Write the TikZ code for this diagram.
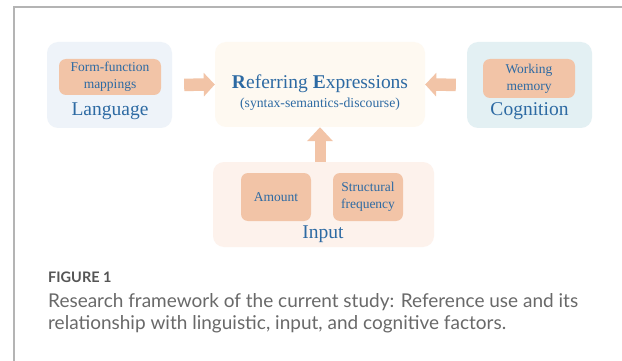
\documentclass[tikz,border=0pt]{standalone}
\usepackage{fontspec}
\setmainfont{Liberation Serif}
\newfontfamily\capfont{Lato}
\usetikzlibrary{arrows.meta}
\definecolor{txtblue}{RGB}{45,106,163}
\definecolor{peach}{RGB}{242,196,167}
\definecolor{langbg}{RGB}{238,243,249}
\definecolor{refbg}{RGB}{254,249,241}
\definecolor{cogbg}{RGB}{227,240,243}
\definecolor{inbg}{RGB}{253,242,236}
\definecolor{framegray}{RGB}{180,180,180}
\definecolor{capgray}{RGB}{105,105,105}
\definecolor{figgray}{RGB}{85,85,85}
\begin{document}
\begin{tikzpicture}[x=1pt,y=-1pt,
  outerbox/.style={rounded corners=11pt, inner sep=0pt, draw=none},
  innerbox/.style={rounded corners=7pt, inner sep=0pt, fill=peach, text=txtblue,
    align=center, font=\fontsize{13.5}{17}\selectfont},
  biglabel/.style={text=txtblue, anchor=base, inner sep=0pt, font=\fontsize{19.5}{23}\selectfont},
  bigarrow/.style={draw=peach, line width=#1},
  bigarrow/.default=12pt,
  captext/.style={anchor=base west, inner sep=0pt, text=capgray, font=\capfont\fontsize{19}{22}\selectfont}
]
\useasboundingbox (0,0) rectangle (622,361);
\fill[white] (0,0) rectangle (622,361);
\draw[framegray, line width=1.5pt] (14,361) -- (14,7) -- (622,7);

% outer boxes
\node[outerbox, fill=langbg, minimum width=125pt, minimum height=86pt] (lang) at (109.5,85) {};
\node[outerbox, fill=refbg, minimum width=210pt, minimum height=85pt] (ref) at (320,84.5) {};
\node[outerbox, fill=cogbg, minimum width=125pt, minimum height=86pt] (cog) at (529.5,85) {};
\node[outerbox, fill=inbg, minimum width=221pt, minimum height=85pt] (input) at (323.5,204.5) {};

% inner boxes
\node[innerbox, minimum width=102pt, minimum height=36pt] (ffm) at (110,77) {Form-function\\mappings};
\node[innerbox, minimum width=92pt, minimum height=39pt] (wm) at (529,78.5) {Working\\memory};
\node[innerbox, minimum width=70pt, minimum height=48pt] (amount) at (276,197) {Amount};
\node[innerbox, minimum width=70pt, minimum height=48pt] (sf) at (368,197) {Structural\\frequency};

% labels
\node[biglabel] (langlbl) at (110,116) {Language};
\node[biglabel] (coglbl) at (529.5,116) {Cognition};
\node[biglabel] (inlbl) at (323,238) {Input};
\node[biglabel] (reflbl) at (320,89) {\textbf{R}eferring \textbf{E}xpressions};
\node[biglabel, font=\fontsize{13.7}{16}\selectfont] (refsub) at (320,107) {(syntax-semantics-discourse)};

% arrows
\draw[bigarrow=12.5pt, -{Triangle[length=11pt,width=23pt]}, shorten <=12pt] (lang.east) -- (ref.west);
\draw[bigarrow=12.5pt, -{Triangle[length=11pt,width=23pt]}, shorten <=11pt] (cog.west) -- (ref.east);
\draw[bigarrow=11pt, -{Triangle[length=14pt,width=25pt]}] (ref.south |- input.north) -- (ref.south);

% caption
\node[anchor=base west, inner sep=0pt, text=figgray, font=\capfont\bfseries\fontsize{14.5}{17}\selectfont] (fig) at (48,282) {FIGURE 1};
\node[captext] (cap1) at (48,307) {Research framework of the current study: Reference use and its};
\node[captext] (cap2) at (48,329) {relationship with linguistic, input, and cognitive factors.};
\end{tikzpicture}
\end{document}
